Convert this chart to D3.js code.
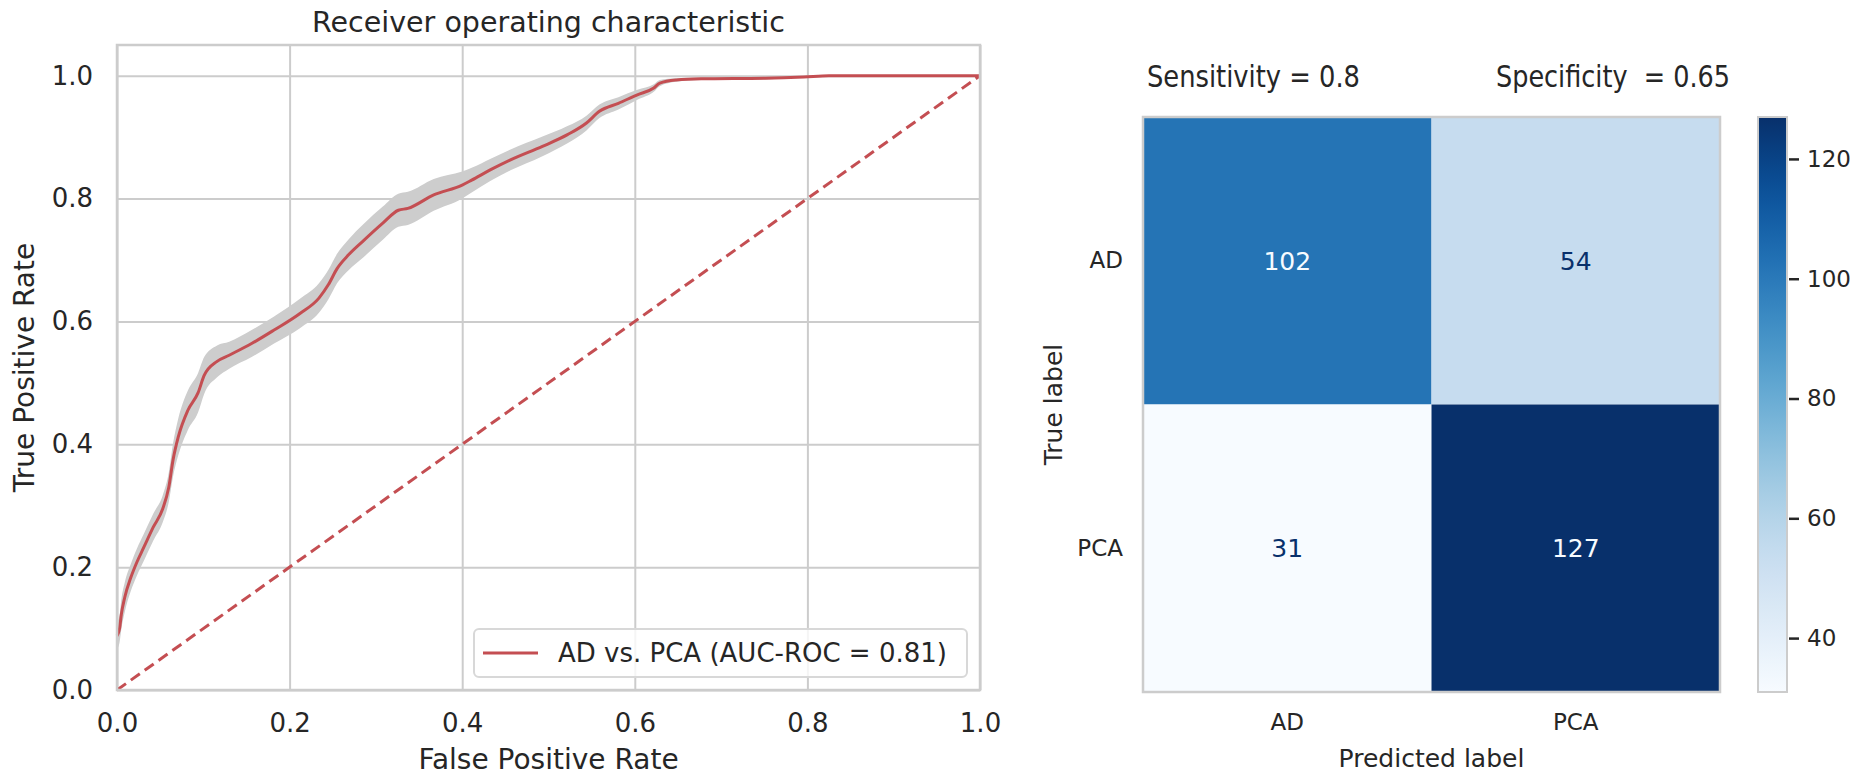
<!DOCTYPE html>
<html>
<head>
<meta charset="utf-8">
<script src="https://cdn.jsdelivr.net/npm/d3@7"></script>
<style>
  body { margin: 0; background: #fff; }
  text { font-family: "DejaVu Sans", sans-serif; fill: #262626; }
</style>
</head>
<body>
<div id="container"></div>
<script>
/* DATA */
// ROC curve (mean) with its spread
const fpr = [0, 0.003, 0.005, 0.009, 0.016, 0.023, 0.031, 0.042, 0.053, 0.060, 0.065, 0.071, 0.082, 0.094, 0.101, 0.116, 0.130, 0.156, 0.182, 0.212, 0.234, 0.245, 0.255, 0.268, 0.286, 0.308, 0.326, 0.337, 0.367, 0.400, 0.411, 0.433, 0.456, 0.493, 0.522, 0.544, 0.559, 0.581, 0.603, 0.622, 0.629, 0.648, 0.677, 0.751, 0.796, 0.825, 1.0];
const tpr = [0.088, 0.100, 0.123, 0.151, 0.183, 0.208, 0.232, 0.265, 0.295, 0.330, 0.375, 0.412, 0.455, 0.484, 0.512, 0.535, 0.545, 0.564, 0.586, 0.613, 0.638, 0.660, 0.686, 0.708, 0.732, 0.760, 0.781, 0.784, 0.806, 0.822, 0.830, 0.847, 0.863, 0.885, 0.904, 0.923, 0.942, 0.955, 0.969, 0.980, 0.988, 0.993, 0.995, 0.996, 0.998, 1.0, 1.0];
const tprSd = [0.022, 0.022, 0.024, 0.024, 0.022, 0.022, 0.022, 0.022, 0.022, 0.024, 0.027, 0.03, 0.032, 0.032, 0.03, 0.026, 0.022, 0.022, 0.022, 0.024, 0.024, 0.024, 0.024, 0.025, 0.027, 0.027, 0.027, 0.027, 0.026, 0.022, 0.02, 0.018, 0.017, 0.016, 0.014, 0.012, 0.011, 0.01, 0.008, 0.006, 0.005, 0.003, 0.002, 0.002, 0.001, 0.001, 0];
const rocTicks = [0, 0.2, 0.4, 0.6, 0.8, 1.0];
const legendLabel = "AD vs. PCA (AUC-ROC = 0.81)";

// confusion matrix
const classes = ["AD", "PCA"];
const counts = [[102, 54], [31, 127]];
const cbarTicks = [40, 60, 80, 100, 120];
const sensitivity = 0.8, specificity = 0.65;

/* CONSTANTS */
const width = 1871, height = 777;
const roc = { left: 117, right: 980, top: 45, bottom: 690 };
const cmBox = { left: 1143, right: 1720, top: 117, bottom: 692 };
const cbar = { left: 1758, right: 1787 };
const red = "#c44e52", gridColor = "#cccccc";

const svg = d3.select("#container")
  .append("svg")
  .attr("width", width)
  .attr("height", height)
  .style("background-color", "white");

/* ---------- ROC PANEL ---------- */
const xScale = d3.scaleLinear().domain([0, 1]).range([roc.left, roc.right]);
const yScale = d3.scaleLinear().domain([0, 1.05]).range([roc.bottom, roc.top]);

// grid
svg.append("g")
  .attr("transform", `translate(0,${roc.bottom})`)
  .call(d3.axisBottom(xScale).tickValues(rocTicks).tickSize(-(roc.bottom - roc.top)).tickFormat(""))
  .call(g => g.select(".domain").remove())
  .call(g => g.selectAll("line").attr("stroke", gridColor).attr("stroke-width", 2));
svg.append("g")
  .attr("transform", `translate(${roc.left},0)`)
  .call(d3.axisLeft(yScale).tickValues(rocTicks).tickSize(-(roc.right - roc.left)).tickFormat(""))
  .call(g => g.select(".domain").remove())
  .call(g => g.selectAll("line").attr("stroke", gridColor).attr("stroke-width", 2));

// tick labels
svg.append("g")
  .attr("transform", `translate(0,${roc.bottom})`)
  .call(d3.axisBottom(xScale).tickValues(rocTicks).tickSize(0).tickPadding(24).tickFormat(d3.format(".1f")))
  .call(g => g.select(".domain").remove())
  .call(g => g.selectAll("text").attr("font-size", 26).attr("font-family", "DejaVu Sans").attr("fill", "#262626"));
svg.append("g")
  .attr("transform", `translate(${roc.left},0)`)
  .call(d3.axisLeft(yScale).tickValues(rocTicks).tickSize(0).tickPadding(24).tickFormat(d3.format(".1f")))
  .call(g => g.select(".domain").remove())
  .call(g => g.selectAll("text").attr("font-size", 26).attr("font-family", "DejaVu Sans").attr("fill", "#262626"));

const rocData = fpr.map((f, i) => ({ f, t: tpr[i], sd: tprSd[i] }));

// spread band
svg.append("path")
  .datum(rocData)
  .attr("fill", "#cdcdcd")
  .attr("d", d3.area()
    .curve(d3.curveMonotoneX)
    .x(d => xScale(d.f))
    .y0(d => yScale(Math.max(0, d.t - d.sd)))
    .y1(d => yScale(Math.min(1.0, d.t + d.sd))));

// chance line
svg.append("path")
  .datum([0, 1])
  .attr("fill", "none")
  .attr("stroke", red)
  .attr("stroke-width", 3)
  .attr("stroke-dasharray", "11,6")
  .attr("d", d3.line().x(d => xScale(d)).y(d => yScale(d)));

// mean ROC
svg.append("path")
  .datum(rocData)
  .attr("fill", "none")
  .attr("stroke", red)
  .attr("stroke-width", 3)
  .attr("stroke-linejoin", "round")
  .attr("d", d3.line().curve(d3.curveMonotoneX).x(d => xScale(d.f)).y(d => yScale(d.t)));

// frame
svg.append("rect")
  .attr("x", roc.left).attr("y", roc.top)
  .attr("width", roc.right - roc.left).attr("height", roc.bottom - roc.top)
  .attr("fill", "none").attr("stroke", gridColor).attr("stroke-width", 2.5);

// legend
const leg = svg.append("g");
leg.append("rect")
  .attr("x", 474).attr("y", 629).attr("width", 493).attr("height", 48)
  .attr("rx", 5)
  .attr("fill", "white").attr("fill-opacity", 0.8)
  .attr("stroke", "#d8d8d8").attr("stroke-width", 2);
leg.append("line")
  .attr("x1", 483).attr("x2", 538).attr("y1", 653).attr("y2", 653)
  .attr("stroke", red).attr("stroke-width", 3);
leg.append("text")
  .attr("x", 558).attr("y", 653).attr("dy", "0.36em")
  .attr("font-size", 26)
  .text(legendLabel);

// titles
svg.append("text")
  .attr("x", (roc.left + roc.right) / 2).attr("y", 32)
  .attr("text-anchor", "middle").attr("font-size", 28.5)
  .text("Receiver operating characteristic");
svg.append("text")
  .attr("x", (roc.left + roc.right) / 2).attr("y", 769)
  .attr("text-anchor", "middle").attr("font-size", 28)
  .text("False Positive Rate");
svg.append("text")
  .attr("transform", `translate(34,${(roc.top + roc.bottom) / 2}) rotate(-90)`)
  .attr("text-anchor", "middle").attr("font-size", 28)
  .text("True Positive Rate");

/* ---------- CONFUSION MATRIX PANEL ---------- */
const allCounts = counts.flat();
const color = d3.scaleSequential(d3.interpolateBlues).domain(d3.extent(allCounts));
const colX = d3.scaleBand().domain(classes).range([cmBox.left, cmBox.right]);
const rowY = d3.scaleBand().domain(classes).range([cmBox.top, cmBox.bottom]);
const mid = (d3.min(allCounts) + d3.max(allCounts)) / 2;

const cells = [];
counts.forEach((row, i) => row.forEach((v, j) => cells.push({ t: classes[i], p: classes[j], v })));

svg.append("g").selectAll("rect")
  .data(cells)
  .join("rect")
  .attr("x", d => colX(d.p))
  .attr("y", d => rowY(d.t))
  .attr("width", colX.bandwidth())
  .attr("height", rowY.bandwidth())
  .attr("fill", d => color(d.v));

svg.append("g").selectAll("text")
  .data(cells)
  .join("text")
  .attr("x", d => colX(d.p) + colX.bandwidth() / 2)
  .attr("y", d => rowY(d.t) + rowY.bandwidth() / 2)
  .attr("dy", "0.36em")
  .attr("text-anchor", "middle")
  .attr("font-size", 25)
  .style("fill", d => d.v > mid ? d3.interpolateBlues(0) : d3.interpolateBlues(1))
  .text(d => d.v);

svg.append("rect")
  .attr("x", cmBox.left).attr("y", cmBox.top)
  .attr("width", cmBox.right - cmBox.left).attr("height", cmBox.bottom - cmBox.top)
  .attr("fill", "none").attr("stroke", gridColor).attr("stroke-width", 2.5);

// class tick labels
svg.append("g")
  .attr("transform", `translate(0,${cmBox.bottom})`)
  .call(d3.axisBottom(colX).tickSize(0).tickPadding(22))
  .call(g => g.select(".domain").remove())
  .call(g => g.selectAll("text").attr("font-size", 23).attr("font-family", "DejaVu Sans").attr("fill", "#262626"));
svg.append("g")
  .attr("transform", `translate(${cmBox.left},0)`)
  .call(d3.axisLeft(rowY).tickSize(0).tickPadding(20))
  .call(g => g.select(".domain").remove())
  .call(g => g.selectAll("text").attr("font-size", 23).attr("font-family", "DejaVu Sans").attr("fill", "#262626"));

svg.append("text")
  .attr("x", (cmBox.left + cmBox.right) / 2).attr("y", 767)
  .attr("text-anchor", "middle").attr("font-size", 25)
  .text("Predicted label");
svg.append("text")
  .attr("transform", `translate(1062,${(cmBox.top + cmBox.bottom) / 2}) rotate(-90)`)
  .attr("text-anchor", "middle").attr("font-size", 25)
  .text("True label");

// sensitivity / specificity notes
svg.append("text")
  .attr("x", 1147).attr("y", 87)
  .attr("font-family", "Lato").attr("font-size", 31)
  .attr("textLength", 213).attr("lengthAdjust", "spacingAndGlyphs")
  .text(`Sensitivity = ${sensitivity}`);
svg.append("text")
  .attr("x", 1496).attr("y", 87)
  .attr("font-family", "Lato").attr("font-size", 31)
  .attr("textLength", 234).attr("lengthAdjust", "spacingAndGlyphs")
  .style("white-space", "pre")
  .text(`Specificity  = ${specificity}`);

// colorbar
const cScale = d3.scaleLinear().domain(color.domain()).range([cmBox.bottom, cmBox.top]);
const grad = svg.append("defs").append("linearGradient")
  .attr("id", "blues").attr("x1", 0).attr("x2", 0).attr("y1", 1).attr("y2", 0);
d3.range(0, 1.0001, 0.05).forEach(t => {
  grad.append("stop").attr("offset", t).attr("stop-color", d3.interpolateBlues(t));
});
svg.append("rect")
  .attr("x", cbar.left).attr("y", cmBox.top)
  .attr("width", cbar.right - cbar.left).attr("height", cmBox.bottom - cmBox.top)
  .attr("fill", "url(#blues)")
  .attr("stroke", gridColor).attr("stroke-width", 2);
svg.append("g")
  .attr("transform", `translate(${cbar.right + 2},0)`)
  .call(d3.axisRight(cScale).tickValues(cbarTicks).tickSize(10).tickPadding(8))
  .call(g => g.select(".domain").remove())
  .call(g => g.selectAll("line").attr("stroke", "#262626").attr("stroke-width", 2.5))
  .call(g => g.selectAll("text").attr("font-size", 23).attr("font-family", "DejaVu Sans").attr("fill", "#262626"));
</script>
</body>
</html>
